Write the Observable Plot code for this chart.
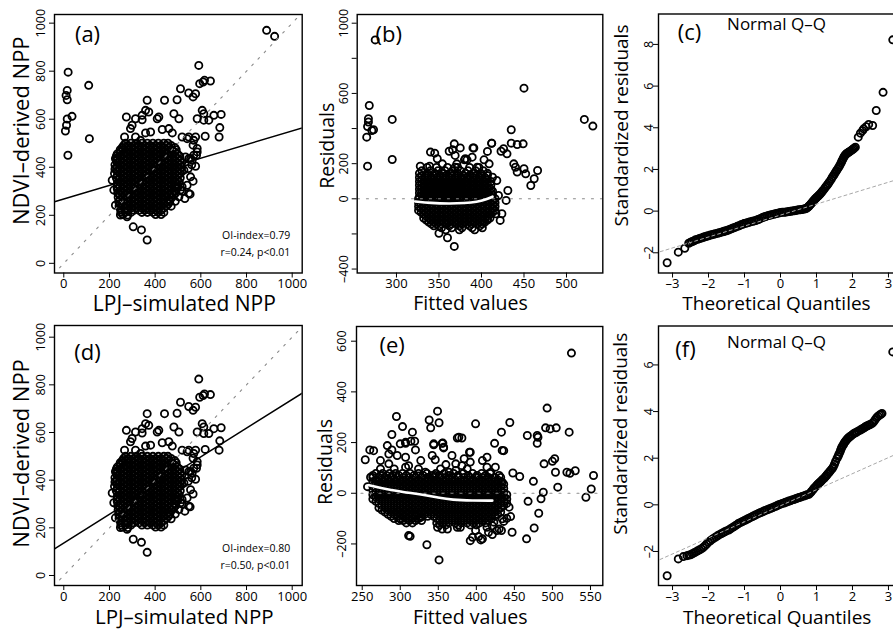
<!DOCTYPE html>
<html><head><meta charset="utf-8">
<script src="https://cdn.jsdelivr.net/npm/d3@7"></script>
<script src="https://cdn.jsdelivr.net/npm/@observablehq/plot@0.6"></script>
<style>
html,body{margin:0;padding:0;background:#fff;}
#wrap{position:relative;width:893px;height:629px;overflow:hidden;background:#fff;}
#wrap > svg{position:absolute;}
</style></head><body><div id="wrap"></div>
<script>
// ---------- tick values ----------
const ticksNPP = [0, 200, 400, 600, 800, 1000];
const ticksFitA = [300, 350, 400, 450, 500];
const ticksResA = [-400, -200, 0, 200, 400, 600, 800, 1000];
const labelsResA = [-400, 0, 200, 600, 1000];
const ticksFitD = [250, 300, 350, 400, 450, 500, 550];
const ticksResD = [-200, 0, 200, 400, 600];
const ticksQQx = [-3, -2, -1, 0, 1, 2, 3];
const ticksQQyC = [-2, 0, 2, 4, 6, 8];
const ticksQQyF = [-2, 0, 2, 4, 6];

// ---------- (a)/(d): LPJ-simulated NPP vs NDVI-derived NPP ----------
const nppCloud = [[591,824],[595,748],[610,755],[642,759],[616,762],[511,727],[547,709],[577,706],[566,693],[365,679],[441,679],[496,681],[606,637],[613,623],[657,616],[689,620],[635,596],[613,596],[584,602],[504,602],[409,602],[416,609],[482,623],[358,637],[343,616],[314,602],[274,609],[683,565],[680,526],[619,529],[577,526],[518,526],[540,519],[566,492],[584,478],[581,450],[547,436],[577,404],[566,342],[553,288],[518,319],[304,152],[340,139],[365,97],[280,201],
[372,630],[343,598],[299,575],[292,561],[358,543],[380,547],[431,557],[460,561],[475,543],[547,526],[569,512],[266,526],[314,526],[336,512],[555,436],[547,291],[511,305],[584,464],[569,450],[226,395],[212,346],[226,436],[219,305],[226,242],[248,201],[277,194],
[555,360],[540,325],[518,300],[504,277],[488,258],[470,238],[530,270],[545,395],[560,410],[533,443],[562,429],[526,388]];
const nppCoreRows = [
 [500, [270, 294, 318, 342, 366, 390, 414, 438, 456]],
 [491, [262, 282, 306, 330, 354, 378, 402, 426, 450, 470]],
 [482, [256, 270, 294, 318, 342, 366, 390, 414, 438, 462, 486]],
 [473, [247, 258, 282, 306, 330, 354, 378, 402, 426, 450, 474, 492]],
 [464, [246, 270, 294, 318, 342, 366, 390, 414, 438, 462, 486]],
 [455, [234, 258, 282, 306, 330, 354, 378, 402, 426, 450, 474, 498]],
 [446, [230, 246, 270, 294, 318, 342, 366, 390, 414, 438, 462, 486, 508]],
 [437, [234, 258, 282, 306, 330, 354, 378, 402, 426, 450, 474, 498]],
 [428, [230, 246, 270, 294, 318, 342, 366, 390, 414, 438, 462, 486, 510]],
 [419, [234, 258, 282, 306, 330, 354, 378, 402, 426, 450, 474, 498, 516]],
 [410, [224, 246, 270, 294, 318, 342, 366, 390, 414, 438, 462, 486, 510]],
 [401, [234, 258, 282, 306, 330, 354, 378, 402, 426, 450, 474, 498, 516]],
 [392, [224, 246, 270, 294, 318, 342, 366, 390, 414, 438, 462, 486, 510]],
 [383, [234, 258, 282, 306, 330, 354, 378, 402, 426, 450, 474, 498, 516]],
 [374, [222, 246, 270, 294, 318, 342, 366, 390, 414, 438, 462, 486, 510]],
 [365, [234, 258, 282, 306, 330, 354, 378, 402, 426, 450, 474, 498]],
 [356, [230, 246, 270, 294, 318, 342, 366, 390, 414, 438, 462, 486, 510]],
 [347, [234, 258, 282, 306, 330, 354, 378, 402, 426, 450, 474, 498]],
 [338, [246, 270, 294, 318, 342, 366, 390, 414, 438, 462, 486, 506]],
 [329, [234, 258, 282, 306, 330, 354, 378, 402, 426, 450, 474, 498]],
 [320, [234, 246, 270, 294, 318, 342, 366, 390, 414, 438, 462, 486, 500]],
 [311, [234, 258, 282, 306, 330, 354, 378, 402, 426, 450, 474, 496]],
 [302, [246, 270, 294, 318, 342, 366, 390, 414, 438, 462, 486]],
 [293, [236, 258, 282, 306, 330, 354, 378, 402, 426, 450, 474, 490]],
 [284, [246, 270, 294, 318, 342, 366, 390, 414, 438, 462, 482]],
 [275, [238, 258, 282, 306, 330, 354, 378, 402, 426, 450, 474]],
 [266, [246, 270, 294, 318, 342, 366, 390, 414, 438, 462]],
 [257, [240, 258, 282, 306, 330, 354, 378, 402, 426, 450, 464]],
 [248, [246, 270, 294, 318, 342, 366, 390, 414, 438, 458]],
 [239, [242, 258, 282, 306, 330, 354, 378, 402, 426, 450]],
 [230, [246, 270, 294, 318, 342, 366, 390, 414, 438]],
 [221, [250, 282, 306, 330, 354, 378, 402, 426]],
 [212, [250, 270, 294, 342, 366, 390, 414, 438]],
 [203, [258, 402, 426]]
];
const nppOnlyA = [[19,796],[15,720],[10,699],[15,681],[36,612],[15,601],[12,575],[7,551],[18,450],[109,741],[112,519],[888,970],[923,945]];
const regLineA = [[-40.7, 256], [1043.8, 564]];
const regLineD = [[-40.7, 112], [1043.8, 765]];
const oneToOne = [[-100, -100], [1100, 1100]];
const annotA = ["OI-index=0.79", "r=0.24, p<0.01"];
const annotD = ["OI-index=0.80", "r=0.50, p<0.01"];

// ---------- (b): residuals vs fitted, first model ----------
const resA = [[275,905],[268,531],[267,456],[267,437],[266,412],[265,351],[271,389],[273,393],[266,186],[295,452],[295,224],[450,630],[521,452],[531,414],
[412,317],[407,270],[409,199],[413,123],[418,104],[423,271],[426,285],[430,256],[435,317],[442,309],[449,313],[438,199],[440,180],[442,152],[450,171],[452,142],[458,76],[462,114],[466,161],[420,19],[424,-85],[422,-123],[429,-9],[431,47],[417,-85],[413,-57],[407,-114],[435,393],
[350,-196],[360,-222],[368,-271],
[340,266],[345,260],[348,228],[339,186],[328,186],[354,199],[362,271],[366,279],[369,247],[371,199],[375,290],[380,222],[383,222],[390,290],[395,180],[403,222],[389,237],[368,313],[391,289],[412,316],[381,228],[369,180]];
const resACoreRows = [
 [178, [336, 347, 360, 372, 386, 397]],
 [160, [330, 340, 349, 357, 366, 375, 384, 393, 402]],
 [145, [327, 336, 345, 354, 363, 372, 381, 390, 399, 407]],
 [132, [330, 337, 344, 351, 358, 365, 372, 379, 386, 393, 400, 407]],
 [121, [327, 334, 341, 348, 355, 362, 369, 376, 383, 390, 397, 404]],
 [110, [330, 337, 344, 351, 358, 365, 372, 379, 386, 393, 400, 407]],
 [99, [327, 334, 341, 348, 355, 362, 369, 376, 383, 390, 397, 404, 411]],
 [88, [330, 337, 344, 351, 358, 365, 372, 379, 386, 393, 400, 407]],
 [77, [327, 334, 341, 348, 355, 362, 369, 376, 383, 390, 397, 404, 411]],
 [66, [330, 337, 344, 351, 358, 365, 372, 379, 386, 393, 400, 407]],
 [55, [327, 334, 341, 348, 355, 362, 369, 376, 383, 390, 397, 404, 411]],
 [44, [330, 337, 344, 351, 358, 365, 372, 379, 386, 393, 400, 407, 413]],
 [33, [327, 334, 341, 348, 355, 362, 369, 376, 383, 390, 397, 404, 411]],
 [22, [330, 337, 344, 351, 358, 365, 372, 379, 386, 393, 400, 407, 413]],
 [11, [327, 334, 341, 348, 355, 362, 369, 376, 383, 390, 397, 404, 411]],
 [0, [326, 332, 338, 344, 350, 356, 362, 368, 374, 380, 386, 392, 398, 404, 410, 416]],
 [-11, [329, 335, 341, 347, 353, 359, 365, 371, 377, 383, 389, 395, 401, 407, 413]],
 [-22, [326, 332, 338, 344, 350, 356, 362, 368, 374, 380, 386, 392, 398, 404, 410, 416]],
 [-33, [329, 335, 341, 347, 353, 359, 365, 371, 377, 383, 389, 395, 401, 407, 413]],
 [-44, [326, 332, 338, 344, 350, 356, 362, 368, 374, 380, 386, 392, 398, 404, 410, 416]],
 [-55, [329, 335, 341, 347, 353, 359, 365, 371, 377, 383, 389, 395, 401, 407, 413]],
 [-66, [326, 332, 338, 344, 350, 356, 362, 368, 374, 380, 386, 392, 398, 404, 410, 416]],
 [-77, [329, 335, 341, 347, 353, 359, 365, 371, 377, 383, 389, 395, 401, 407, 413]],
 [-88, [332, 338, 344, 350, 356, 362, 368, 374, 380, 386, 392, 398, 404, 410]],
 [-99, [335, 341, 347, 353, 359, 365, 371, 377, 383, 389, 395, 401, 407]],
 [-110, [332, 338, 344, 350, 356, 362, 368, 374, 380, 386, 392, 398, 404, 410]],
 [-121, [335, 341, 347, 353, 359, 365, 371, 377, 383, 389, 395, 401, 407]],
 [-132, [338, 344, 350, 356, 362, 368, 374, 380, 386, 392, 398, 404]],
 [-143, [341, 347, 353, 359, 365, 371, 377, 383, 389, 395, 401]],
 [-154, [344, 350, 362, 374, 386, 398]],
 [-165, [353, 365, 377, 389, 401]],
 [-176, [358, 374, 392]]
];
const lowessA = [[322,-15],[340,-24],[362,-28],[380,-25],[395,-18],[405,-5],[413,12]];

// ---------- (e): residuals vs fitted, second model ----------
const resD = [[254,132],[260,171],[265,168],[261,63],[257,26],[295,303],[289,232],[303,263],[307,197],[314,205],[319,205],[316,241],[300,195],[349,324],[351,278],[338,289],[340,258],[344,195],[355,197],[357,182],[375,218],[381,218],[399,274],[392,162],[433,241],[424,197],[444,279],[436,168],[448,80],[457,66],[467,228],[475,47],[468,-32],[480,228],[481,221],[480,197],[493,336],[491,258],[497,254],[505,258],[489,116],[500,126],[503,136],[504,83],[507,24],[488,4],[485,-22],[482,-79],[476,-137],[466,-180],[522,241],[519,83],[523,79],[530,89],[525,553],[544,-16],[551,17],[554,70],
[313,-170],[335,-203],[351,-263],[436,-111],[440,-99],[427,-147],[423,-114],[421,-163],[433,-147],[445,-92],[443,-55],[447,-154],[414,-134],[392,-187],[403,-171],[408,-180],[375,-134],[362,-141],[376,-84],[300,-101],[298,-108],
[283,188],[307,201],[320,171],[344,191],[356,198],[357,179],[377,221],[391,162],[434,169],[285,155],[289,171],[296,149],[307,142],[285,116],[274,96],[292,96],[311,109],[327,129],[346,132],[360,113],[373,116],[384,136],[392,123],[408,129],[414,103],[419,83],[425,103],[434,44],[430,70],[381,109],[388,96],[324,96],[333,83],[346,70],[364,83],[274,129],[307,103],[342,149],[368,149],[414,142],[353,96],[373,90],
[311,-167],[320,-88],[327,-95],[349,-134],[355,-141],[379,-134],[395,-174],[406,-184],[399,-147],[416,-154],[421,-128],[430,-141],[434,-101]];
const resDCoreRows = [
 [78, [268, 277, 286, 294, 303, 313, 324, 335, 347, 358, 370, 383, 395, 407, 418]],
 [70, [264, 274, 282, 290, 298, 308, 318, 330, 342, 352, 364, 376, 389, 401, 412]],
 [62, [264, 272, 280, 288, 296, 304, 312, 320, 328, 336, 344, 352, 360, 368, 376, 384, 392, 400, 408, 416, 424, 432]],
 [53, [268, 276, 284, 292, 300, 308, 316, 324, 332, 340, 348, 356, 364, 372, 380, 388, 396, 404, 412, 420, 428]],
 [45, [264, 272, 280, 288, 296, 304, 312, 320, 328, 336, 344, 352, 360, 368, 376, 384, 392, 400, 408, 416, 424, 432]],
 [36, [268, 276, 284, 292, 300, 308, 316, 324, 332, 340, 348, 356, 364, 372, 380, 388, 396, 404, 412, 420, 428, 436]],
 [28, [264, 272, 280, 288, 296, 304, 312, 320, 328, 336, 344, 352, 360, 368, 376, 384, 392, 400, 408, 416, 424, 432]],
 [19, [268, 276, 284, 292, 300, 308, 316, 324, 332, 340, 348, 356, 364, 372, 380, 388, 396, 404, 412, 420, 428, 436]],
 [11, [264, 272, 280, 288, 296, 304, 312, 320, 328, 336, 344, 352, 360, 368, 376, 384, 392, 400, 408, 416, 424, 432]],
 [2, [268, 276, 284, 292, 300, 308, 316, 324, 332, 340, 348, 356, 364, 372, 380, 388, 396, 404, 412, 420, 428, 436]],
 [-6, [264, 272, 280, 288, 296, 304, 312, 320, 328, 336, 344, 352, 360, 368, 376, 384, 392, 400, 408, 416, 424, 432, 440]],
 [-15, [268, 276, 284, 292, 300, 308, 316, 324, 332, 340, 348, 356, 364, 372, 380, 388, 396, 404, 412, 420, 428, 436]],
 [-23, [264, 272, 280, 288, 296, 304, 312, 320, 328, 336, 344, 352, 360, 368, 376, 384, 392, 400, 408, 416, 424, 432, 440]],
 [-32, [268, 276, 284, 292, 300, 308, 316, 324, 332, 340, 348, 356, 364, 372, 380, 388, 396, 404, 412, 420, 428, 436]],
 [-40, [272, 280, 288, 296, 304, 312, 320, 328, 336, 344, 352, 360, 368, 376, 384, 392, 400, 408, 416, 424, 432, 440]],
 [-49, [276, 284, 292, 300, 308, 316, 324, 332, 340, 348, 356, 364, 372, 380, 388, 396, 404, 412, 420, 428, 436]],
 [-57, [272, 280, 288, 296, 304, 312, 320, 328, 336, 344, 352, 360, 368, 376, 384, 392, 400, 408, 416, 424, 432]],
 [-66, [276, 284, 292, 300, 308, 316, 324, 332, 340, 348, 356, 364, 372, 380, 388, 396, 404, 412, 420, 428]],
 [-74, [280, 288, 296, 304, 312, 320, 328, 336, 344, 352, 360, 368, 376, 384, 392, 400, 408, 416, 424, 432]],
 [-83, [284, 292, 300, 308, 316, 324, 332, 340, 348, 356, 364, 372, 380, 388, 396, 404, 412, 420, 428]],
 [-91, [288, 296, 304, 312, 320, 328, 336, 344, 352, 360, 368, 376, 384, 392, 400, 408, 416, 424]],
 [-100, [292, 300, 308, 316, 324, 348, 356, 364, 372, 380, 388, 396, 404, 412, 420]],
 [-108, [304, 312, 320, 328, 352, 360, 368, 376, 384, 392, 400, 408, 416]],
 [-117, [308, 316, 348, 356, 364, 372, 380, 388, 396, 404, 412]],
 [-125, [352, 360, 376, 392, 400]]
];
const lowessD = [[259,32],[285,13],[329,-5],[350,-17],[368,-26],[395,-29],[421,-29]];
const zeroLine = [[0, 0], [1000, 0]];

// ---------- (c)/(f): normal Q-Q ----------
const qqC = [[-3.15,-2.48],[-2.84,-1.97],[-2.66,-1.78],[-2.55,-1.54],[-2.5,-1.5],[-2.45,-1.46],[-2.4,-1.42],[-2.36,-1.38],[-2.3,-1.35],[-2.25,-1.32],[-2.2,-1.29],[-2.15,-1.26],[-2.12,-1.24],[-2.08,-1.22],[-2.04,-1.2],[-2.0,-1.18],[-1.95,-1.15],[-1.9,-1.13],[-1.86,-1.11],[-1.81,-1.09],[-1.75,-1.06],[-1.7,-1.04],[-1.65,-1.01],[-1.6,-0.99],[-1.57,-0.97],[-1.53,-0.96],[-1.49,-0.93],[-1.45,-0.91],[-1.4,-0.87],[-1.35,-0.84],[-1.3,-0.8],[-1.25,-0.77],[-1.2,-0.73],[-1.15,-0.70],[-1.1,-0.66],[-1.05,-0.63],[-1.01,-0.6],[-0.97,-0.58],[-0.92,-0.56],[-0.88,-0.54],[-0.83,-0.51],[-0.78,-0.49],[-0.73,-0.47],[-0.69,-0.45],[-0.64,-0.42],[-0.6,-0.39],[-0.55,-0.35],[-0.5,-0.31],[-0.46,-0.28],[-0.42,-0.26],[-0.37,-0.23],[-0.33,-0.21],[-0.28,-0.19],[-0.24,-0.17],[-0.19,-0.15],[-0.14,-0.13],[-0.1,-0.11],[-0.05,-0.09],[0.0,-0.07],[0.05,-0.06],[0.1,-0.05],[0.14,-0.05],[0.19,-0.03],[0.24,-0.02],[0.28,-0.01],[0.33,0.01],[0.38,0.02],[0.42,0.03],[0.47,0.05],[0.52,0.06],[0.56,0.07],[0.6,0.08],[0.65,0.1],[0.69,0.11],[0.72,0.14],[0.75,0.17],[0.78,0.22],[0.8,0.26],[0.83,0.31],[0.85,0.36],[0.88,0.41],[0.9,0.46],[0.93,0.52],[0.96,0.58],[0.99,0.63],[1.01,0.67],[1.04,0.71],[1.06,0.75],[1.09,0.8],[1.12,0.86],[1.15,0.92],[1.18,0.99],[1.22,1.07],[1.25,1.15],[1.28,1.21],[1.31,1.28],[1.34,1.35],[1.37,1.43],[1.41,1.53],[1.44,1.63],[1.47,1.7],[1.5,1.78],[1.53,1.87],[1.56,1.95],[1.59,2.03],[1.62,2.11],[1.65,2.2],[1.68,2.3],[1.7,2.38],[1.72,2.45],[1.74,2.52],[1.76,2.59],[1.78,2.65],[1.8,2.7],[1.83,2.74],[1.85,2.78],[1.88,2.81],[1.9,2.83],[1.93,2.87],[1.96,2.9],[1.99,2.94],[2.02,2.98],[2.05,3.02],[2.08,3.07],[2.16,3.55],[2.22,3.74],[2.28,3.86],[2.31,3.95],[2.38,4.05],[2.45,4.16],[2.56,4.11],[2.66,4.83],[2.85,5.70],[3.12,8.22]];
const qqLineC = [[-3.5,-2.03],[3.5,1.65]];
const qqF = [[-3.15,-3.04],[-2.84,-2.32],[-2.7,-2.22],[-2.6,-2.18],[-2.55,-2.16],[-2.5,-2.14],[-2.45,-2.1],[-2.4,-2.06],[-2.35,-2.02],[-2.3,-1.97],[-2.25,-1.93],[-2.2,-1.89],[-2.15,-1.83],[-2.1,-1.76],[-2.05,-1.68],[-2.0,-1.6],[-1.95,-1.54],[-1.9,-1.48],[-1.85,-1.43],[-1.8,-1.38],[-1.75,-1.33],[-1.71,-1.29],[-1.65,-1.24],[-1.6,-1.2],[-1.55,-1.16],[-1.5,-1.12],[-1.44,-1.08],[-1.4,-1.04],[-1.35,-0.99],[-1.3,-0.94],[-1.25,-0.89],[-1.2,-0.84],[-1.16,-0.79],[-1.1,-0.75],[-1.05,-0.71],[-1.01,-0.68],[-0.97,-0.65],[-0.92,-0.61],[-0.88,-0.58],[-0.83,-0.54],[-0.78,-0.5],[-0.74,-0.47],[-0.7,-0.44],[-0.65,-0.4],[-0.6,-0.36],[-0.55,-0.33],[-0.5,-0.3],[-0.46,-0.27],[-0.42,-0.24],[-0.37,-0.21],[-0.32,-0.18],[-0.27,-0.15],[-0.22,-0.12],[-0.18,-0.09],[-0.13,-0.06],[-0.09,-0.03],[-0.05,0.0],[0.0,0.03],[0.05,0.06],[0.1,0.08],[0.14,0.11],[0.19,0.13],[0.23,0.16],[0.28,0.18],[0.32,0.21],[0.37,0.23],[0.42,0.26],[0.46,0.28],[0.51,0.31],[0.56,0.33],[0.6,0.36],[0.65,0.38],[0.7,0.41],[0.74,0.43],[0.79,0.45],[0.83,0.51],[0.86,0.57],[0.9,0.64],[0.93,0.71],[0.97,0.77],[1.0,0.82],[1.03,0.87],[1.06,0.92],[1.09,0.96],[1.12,1.0],[1.15,1.05],[1.18,1.1],[1.22,1.15],[1.25,1.21],[1.28,1.26],[1.31,1.32],[1.34,1.37],[1.37,1.43],[1.4,1.49],[1.44,1.56],[1.47,1.64],[1.5,1.74],[1.53,1.86],[1.57,1.99],[1.6,2.08],[1.62,2.16],[1.65,2.25],[1.67,2.34],[1.69,2.42],[1.71,2.49],[1.74,2.56],[1.76,2.62],[1.78,2.67],[1.8,2.72],[1.83,2.77],[1.85,2.82],[1.88,2.86],[1.9,2.89],[1.93,2.93],[1.96,2.96],[2.0,3.01],[2.04,3.06],[2.08,3.09],[2.12,3.12],[2.17,3.17],[2.22,3.21],[2.26,3.25],[2.3,3.28],[2.33,3.31],[2.36,3.35],[2.4,3.38],[2.43,3.4],[2.47,3.43],[2.5,3.45],[2.55,3.5],[2.59,3.56],[2.63,3.65],[2.67,3.74],[2.71,3.8],[2.75,3.85],[2.79,3.88],[2.82,3.92],[3.12,6.56]];
const qqLineF = [[-3.5,-2.45],[3.5,2.37]];

// ---------- helpers ----------
const rows = r => r.flatMap(([y, xs]) => xs.map(x => [x, y]));
const fmt = d => d < 0 ? "\u2013" + Math.abs(d) : String(d);
const FONT = "'Open Sans', 'DejaVu Sans', sans-serif";
const dotStyle = {x: d => d[0], y: d => d[1], r: 3.6, stroke: "black", strokeWidth: 1.8, fill: "none"};
const lineXY = (data, o) => Plot.line(data, {x: d => d[0], y: d => d[1], clip: true, ...o});
const dotted = {stroke: "#8a8a8a", strokeWidth: 1.1, strokeDasharray: "2,7"};
const T = {textAnchor: "middle", lineAnchor: "middle"};

function panel(cfg) {
  const [bx0, by0, bx1, by1] = cfg.box;
  const [fx0, fy0, fx1, fy1] = cfg.frame;
  const marks = [
    ...cfg.marks,
    Plot.frame({stroke: "black", strokeWidth: 1.4}),
    Plot.axisX({ticks: cfg.xTicks, tickSize: 5, tickPadding: cfg.xPad, tickFormat: fmt, fontSize: 13, label: null}),
    Plot.axisY({ticks: cfg.yTicks, tickSize: 5, tickFormat: () => "", label: null}),
    Plot.text(cfg.yLabels, {...T, y: d => d, text: fmt, frameAnchor: "left", dx: cfg.yLabelDx, rotate: -90, fontSize: 12.5}),
    Plot.text([cfg.xTitle], {...T, text: d => d, frameAnchor: "bottom", dx: cfg.xTitleDx, dy: cfg.xTitleDy, fontSize: cfg.titleSize}),
    Plot.text([cfg.yTitle], {...T, text: d => d, frameAnchor: "left", dx: cfg.yTitleDx, dy: cfg.yTitleDy, rotate: -90, fontSize: cfg.yTitleSize || cfg.titleSize}),
    Plot.text([cfg.tag], {...T, text: d => d, frameAnchor: "top-left", dx: cfg.tagDx, dy: cfg.tagDy, fontSize: 22}),
    ...(cfg.extra || [])
  ];
  const svg = Plot.plot({
    width: bx1 - bx0, height: by1 - by0,
    marginLeft: fx0 - bx0, marginTop: fy0 - by0, marginRight: bx1 - fx1, marginBottom: by1 - fy1,
    x: {domain: cfg.xDomain}, y: {domain: cfg.yDomain},
    style: {fontFamily: FONT, fontSize: "12px", color: "black", background: "transparent", overflow: "visible"},
    marks
  });
  svg.style.left = bx0 + "px";
  svg.style.top = by0 + "px";
  document.getElementById("wrap").appendChild(svg);
}

const qqTitle = (dy) => Plot.text(["Normal Q\u2013Q"], {...T, text: d => d, frameAnchor: "top-left", dx: 118, dy, fontSize: 17});
const annot = (lines, dys) => lines.map((t, i) => Plot.text([t], {text: d => d, frameAnchor: "bottom-right", textAnchor: "end", lineAnchor: "middle", dx: -12, dy: dys[i], fontSize: 10.5}));

// (a)
panel({
  box: [0, 0, 310, 315], frame: [54, 14, 301.7, 272.5],
  xDomain: [-40.7, 1043.8], yDomain: [-40.3, 1036],
  xTicks: ticksNPP, yTicks: ticksNPP, yLabels: ticksNPP, xPad: 1,
  yLabelDx: -13.3, xTitle: "LPJ\u2013simulated NPP", yTitle: "NDVI\u2013derived NPP",
  titleSize: 21, yTitleSize: 22, xTitleDx: 6, xTitleDy: 31.5, yTitleDx: -32.3, yTitleDy: -13,
  tag: "(a)", tagDx: 33, tagDy: 20,
  marks: [
    Plot.dot([...nppCloud, ...rows(nppCoreRows), ...nppOnlyA], dotStyle),
    lineXY(oneToOne, dotted),
    lineXY(regLineA, {stroke: "black", strokeWidth: 1.5})
  ],
  extra: annot(annotA, [-37.5, -20.8])
});
// (b)
panel({
  box: [310, 0, 610, 315], frame: [356.7, 14, 602.3, 272.5],
  xDomain: [253.8, 542.7], yDomain: [-422.5, 1049.5],
  xTicks: ticksFitA, yTicks: ticksResA, yLabels: labelsResA, xPad: 1,
  yLabelDx: -13.4, xTitle: "Fitted values", yTitle: "Residuals",
  titleSize: 19.5, xTitleDx: -9.5, xTitleDy: 31, yTitleDx: -29.4, yTitleDy: 2,
  tag: "(b)", tagDx: 31.6, tagDy: 20,
  marks: [
    Plot.dot([...resA, ...rows(resACoreRows)], dotStyle),
    lineXY(zeroLine, dotted),
    lineXY(lowessA, {stroke: "white", strokeWidth: 2.6, curve: "basis"})
  ]
});
// (c)
panel({
  box: [610, 0, 910, 315], frame: [658, 13.5, 902, 272.5],
  xDomain: [-3.39, 3.39], yDomain: [-2.97, 9.46],
  xTicks: ticksQQx, yTicks: ticksQQyC, yLabels: ticksQQyC, xPad: 1,
  yLabelDx: -9.5, xTitle: "Theoretical Quantiles", yTitle: "Standardized residuals",
  titleSize: 19, xTitleDx: -4, xTitleDy: 30.5, yTitleDx: -37, yTitleDy: -18,
  tag: "(c)", tagDx: 31, tagDy: 18.5,
  marks: [
    Plot.dot(qqC, dotStyle),
    lineXY(qqLineC, {stroke: "#a8a8a8", strokeWidth: 1, strokeDasharray: "3,3"})
  ],
  extra: [qqTitle(10.5)]
});
// (d)
panel({
  box: [0, 315, 310, 629], frame: [54, 325, 301.7, 585],
  xDomain: [-40.7, 1043.8], yDomain: [-42, 1049],
  xTicks: ticksNPP, yTicks: ticksNPP, yLabels: ticksNPP, xPad: 1,
  yLabelDx: -13.3, xTitle: "LPJ\u2013simulated NPP", yTitle: "NDVI\u2013derived NPP",
  titleSize: 20.5, yTitleSize: 22, xTitleDx: 6, xTitleDy: 32, yTitleDx: -32.3, yTitleDy: -2,
  tag: "(d)", tagDx: 33, tagDy: 27.5,
  marks: [
    Plot.dot([...nppCloud, ...rows(nppCoreRows)], dotStyle),
    lineXY(oneToOne, dotted),
    lineXY(regLineD, {stroke: "black", strokeWidth: 1.5})
  ],
  extra: annot(annotD, [-36.7, -20])
});
// (e)
panel({
  box: [310, 315, 610, 629], frame: [356, 326, 602.3, 585],
  xDomain: [242.5, 566.2], yDomain: [-364, 658],
  xTicks: ticksFitD, yTicks: ticksResD, yLabels: ticksResD, xPad: 1,
  yLabelDx: -14.3, xTitle: "Fitted values", yTitle: "Residuals",
  titleSize: 19.5, xTitleDx: -9.5, xTitleDy: 32, yTitleDx: -31, yTitleDy: 6,
  tag: "(e)", tagDx: 35.7, tagDy: 19,
  marks: [
    Plot.dot([...resD, ...rows(resDCoreRows)], dotStyle),
    lineXY(zeroLine, dotted),
    lineXY(lowessD, {stroke: "white", strokeWidth: 2.6, curve: "basis"})
  ]
});
// (f)
panel({
  box: [610, 315, 910, 629], frame: [658, 325.5, 902, 585],
  xDomain: [-3.39, 3.39], yDomain: [-3.46, 7.67],
  xTicks: ticksQQx, yTicks: ticksQQyF, yLabels: ticksQQyF, xPad: 1,
  yLabelDx: -9.5, xTitle: "Theoretical Quantiles", yTitle: "Standardized residuals",
  titleSize: 19, xTitleDx: -3.3, xTitleDy: 32, yTitleDx: -38, yTitleDy: -22,
  tag: "(f)", tagDx: 27, tagDy: 24,
  marks: [
    Plot.dot(qqF, dotStyle),
    lineXY(qqLineF, {stroke: "#a8a8a8", strokeWidth: 1, strokeDasharray: "3,3"})
  ],
  extra: [qqTitle(16.5)]
});
</script></body></html>
